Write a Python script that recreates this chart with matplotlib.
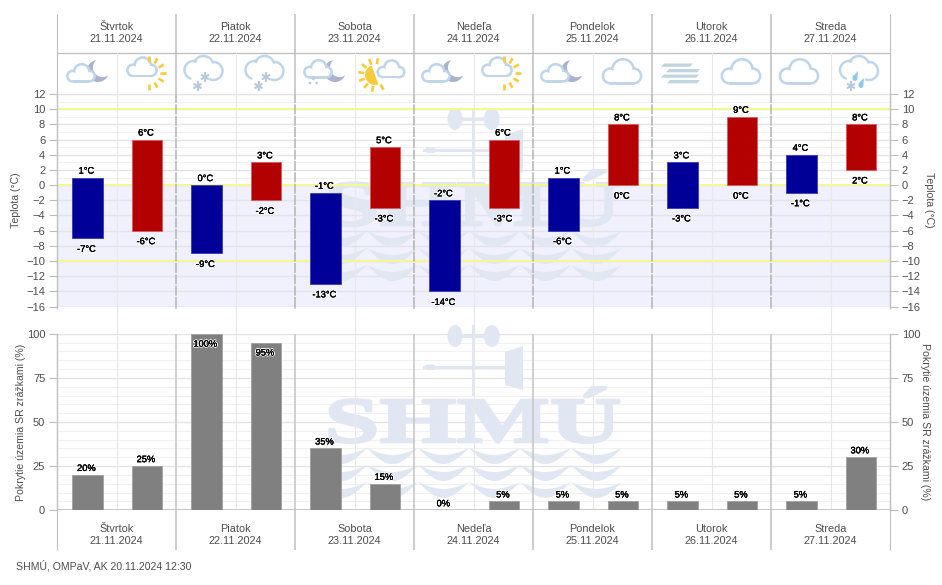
"""Teplota a pokrytie zrazkami - 7 day forecast chart."""

import matplotlib
matplotlib.use("Agg")
import matplotlib.patheffects as pe
import matplotlib.pyplot as plt
import numpy as np
from matplotlib.patches import Circle, Ellipse, FancyBboxPatch, Polygon, Rectangle
from matplotlib.transforms import Affine2D

plt.rcParams["font.family"] = ["Liberation Sans", "DejaVu Sans"]

days = ["Štvrtok", "Piatok", "Sobota", "Nedeľa", "Pondelok", "Utorok", "Streda"]
dates = ["21.11.2024", "22.11.2024", "23.11.2024", "24.11.2024",
         "25.11.2024", "26.11.2024", "27.11.2024"]

temp_high = [1, 6, 0, 3, -1, 5, -2, 6, 1, 8, 3, 9, 4, 8]
temp_low = [-7, -6, -9, -2, -13, -3, -14, -3, -6, 0, -3, 0, -1, 2]
precip = [20, 25, 100, 95, 35, 15, 0, 5, 5, 5, 5, 5, 5, 30]
temp_ticks = list(range(-16, 13, 2))
precip_ticks = [0, 25, 50, 75, 100]
icons = ["moon", "sun", "snow", "snow", "snowmoon", "halfsun", "moon",
         "sun", "moon", "cloud", "fog", "cloud", "cloud", "rainsnow"]

W, H = 942, 585
LEFT, RIGHT = 57, 890
TOP_Y = (94, 306.6)
BOT_Y = (333.7, 510.3)

BLUE = "#000099"
RED = "#B30000"
GRID = "#E4E4E4"
GRID_MINOR = "#F1F1F1"
AXIS = "#BEBEBE"
TEXT = "#4D4D4D"
WATERMARK = "#E0E7F3"
CLOUD = "#BFD6EA"
MOON = "#A9B3CB"
SUN = "#F6CB3C"
FLAKE = "#B8C9DD"

fig = plt.figure(figsize=(W / 100, H / 100), dpi=100)

# full figure axes in pixel coordinates, for header, footer and icons
px = fig.add_axes([0, 0, 1, 1])
px.set_xlim(0, W)
px.set_ylim(H, 0)
px.axis("off")


def chart_axes(y_range):
    y0, y1 = y_range
    ax = fig.add_axes([LEFT / W, 1 - y1 / H, (RIGHT - LEFT) / W, (y1 - y0) / H])
    ax.patch.set_alpha(0)
    ax.set_xlim(0, 14)
    ax.set_xticks([])
    for s in ["top", "bottom"]:
        ax.spines[s].set_visible(False)
    for s in ["left", "right"]:
        ax.spines[s].set_color(AXIS)
        ax.spines[s].set_linewidth(1)
    ax.tick_params(axis="y", which="major", length=5.5, width=0.8, color=AXIS, pad=3,
                   labelsize=8, labelcolor=TEXT, left=True, right=True, labelright=True)
    ax.tick_params(axis="y", which="minor", length=0, left=False, right=False)
    ax.set_axisbelow(True)
    ax.grid(axis="y", which="major", color=GRID, lw=1, zorder=1.5)
    ax.grid(axis="y", which="minor", color=GRID_MINOR, lw=0.8, zorder=1.4)
    for i in range(1, 14, 2):
        ax.axvline(i, color="#E8E8E8", lw=0.8, zorder=1.5)
    return ax


class Stretch(pe.AbstractPathEffect):
    """Stretch a text horizontally around a pixel x position and thicken it."""

    def __init__(self, cx, sx, bold=2.0):
        super().__init__()
        self.cx, self.sx, self.bold = cx, sx, bold

    def draw_path(self, renderer, gc, tpath, affine, rgbFace=None):
        stretch = Affine2D().translate(-self.cx, 0).scale(self.sx, 1).translate(self.cx, 0)
        gc0 = renderer.new_gc()
        gc0.copy_properties(gc)
        gc0.set_linewidth(self.bold)
        gc0.set_foreground(rgbFace)
        renderer.draw_path(gc0, tpath, affine + stretch, rgbFace)
        gc0.restore()


def watermark(ax, dy):
    kw = dict(transform=px.transData, facecolor=WATERMARK, edgecolor="none",
              clip_on=False, zorder=1)
    ax.add_patch(Ellipse((455, 336 + dy), 15, 22, **kw))
    ax.add_patch(Ellipse((491.7, 336 + dy), 16, 22, **kw))
    ax.add_patch(Rectangle((455, 334.5 + dy), 37, 3, **kw))
    ax.add_patch(Rectangle((471.6, 325 + dy), 3.5, 71, **kw))
    ax.add_patch(Rectangle((423, 365.6 + dy), 84, 3.5, **kw))
    ax.add_patch(FancyBboxPatch((425, 364.5 + dy), 11, 5.5,
                                boxstyle="round,pad=0,rounding_size=2.5", **kw))
    ax.add_patch(Polygon([(505, 352 + dy), (523, 346 + dy), (523, 390 + dy), (505, 385 + dy)], **kw))
    ax.text(473, 442 + dy, "SHMÚ", family="Liberation Serif", weight="bold", fontsize=46,
            color=WATERMARK, ha="center", va="baseline", transform=px.transData,
            clip_on=False, zorder=1, path_effects=[Stretch(473, 1.55)])
    # waves
    xs = np.linspace(342, 622, 200)
    for y0 in [448, 465, 482]:
        bump = np.abs(np.sin(np.pi * (xs - 367) / 51))
        pts = np.r_[np.c_[xs, y0 + dy + 7 * bump], np.c_[xs, y0 + dy + 16 * bump][::-1]]
        ax.add_patch(Polygon(pts, **kw))


def label(ax, x, y, text, off):
    ax.annotate(text, (x, y), xytext=(-0.7, off * 0.72), textcoords="offset points",
                ha="center", va="center", fontsize=6.7, color="black", zorder=6,
                annotation_clip=False,
                path_effects=[pe.withStroke(linewidth=1.4, foreground="white"),
                              pe.Stroke(linewidth=0.15, foreground="black"), pe.Normal()])


# temperature chart
ax_t = chart_axes(TOP_Y)
ax_t.set_ylim(-16, 12)
ax_t.set_yticks(temp_ticks)
ax_t.set_yticks(list(range(-15, 12, 2)), minor=True)
ax_t.axhspan(-16, 0, color="#F0F0FF", lw=0, zorder=0.5)
watermark(ax_t, -217)
for y in [10, 0, -10]:
    ax_t.axhline(y, color="#F7F78F", lw=1.5, zorder=1.8)
for i in range(2, 14, 2):
    ax_t.axvline(i, color="#B8B8B8", lw=1.2, ls=(0, (6, 0.8)), zorder=2)

x_pos = np.arange(14) + 0.51
for i, (hi, lo) in enumerate(zip(temp_high, temp_low)):
    is_night = i % 2 == 0
    ax_t.bar(x_pos[i], hi - lo, bottom=lo, width=0.51, zorder=3,
             color=BLUE if is_night else RED,
             edgecolor="#3A3AB8" if is_night else "#D85A5A", linewidth=0.6)
    label(ax_t, x_pos[i], hi, f"{hi}°C", 6.5)
    label(ax_t, x_pos[i], lo, f"{lo}°C", -11)

# precipitation chart
ax_p = chart_axes(BOT_Y)
ax_p.set_ylim(0, 100)
ax_p.set_yticks(precip_ticks)
ax_p.set_yticks([v for v in range(5, 100, 5) if v % 25], minor=True)
watermark(ax_p, 0)
for i in range(2, 14, 2):
    ax_p.axvline(i, color="#C4C4C4", lw=1.1, zorder=2)
ax_p.axhline(0, color=AXIS, lw=1.2, zorder=2)
ax_p.bar(x_pos, precip, width=0.51, color="#808080", edgecolor="#9A9A9A", linewidth=0.5, zorder=3)
for i, v in enumerate(precip):
    label(ax_p, x_pos[i], v, f"{v}%", -10.5 if v >= 95 else 6.5)

# frame lines of header, footer and the half day lines through the gap
day_edges = np.linspace(LEFT, RIGHT, 8)
for i, x in enumerate(day_edges):
    lw = 0.8 if i in (0, 7) else 1.1
    px.plot([x, x], [14, TOP_Y[0]], color=AXIS, lw=lw, solid_capstyle="butt")
    px.plot([x, x], [BOT_Y[1], 550], color=AXIS, lw=lw, solid_capstyle="butt")
    px.plot([x, x], [TOP_Y[1], 308.5], color=AXIS, lw=lw, solid_capstyle="butt")
px.plot([LEFT, RIGHT], [53, 53], color=AXIS, lw=0.9)
px.plot([LEFT, RIGHT], [TOP_Y[0], TOP_Y[0]], color=GRID, lw=0.9)
for x in (day_edges[:-1] + day_edges[1:]) / 2:
    px.plot([x, x], [53, TOP_Y[0]], color="#E8E8E8", lw=0.8)
    px.plot([x, x], [TOP_Y[1], BOT_Y[0]], color="#E8E8E8", lw=0.8)

for i in range(7):
    cx = (day_edges[i] + day_edges[i + 1]) / 2
    for y_name, y_date in [(27.5, 39.5), (528.5, 540.5)]:
        px.text(cx, y_name, days[i], ha="center", va="center", fontsize=7.8, color=TEXT)
        px.text(cx, y_date, dates[i], ha="center", va="center", fontsize=7.8, color=TEXT)

px.text(16, 200, "Teplota (°C)", rotation=90, ha="center", va="center", fontsize=7.6, color=TEXT)
px.text(929, 200, "Teplota (°C)", rotation=-90, ha="center", va="center", fontsize=7.6, color=TEXT)
px.text(21, 422, "Pokrytie územia SR zrážkami (%)", rotation=90, ha="center", va="center",
        fontsize=7.6, color=TEXT)
px.text(925, 422, "Pokrytie územia SR zrážkami (%)", rotation=-90, ha="center", va="center",
        fontsize=7.6, color=TEXT)
px.text(16, 566, "SHMÚ, OMPaV, AK 20.11.2024 12:30", ha="left", va="center", fontsize=7.6, color=TEXT)


# weather icons, everything in pixels around an icon centre
def cloud(cx, cy, s=1.0):
    lobes = [(1, -3, 11), (-12, 3, 7.5), (12, 3, 7.5)]
    for grow, color in [(1.3, CLOUD), (-1.3, "white")]:
        for dx, dy, r in lobes:
            px.add_patch(Circle((cx + dx * s, cy + dy * s), r * s + grow, fc=color, ec="none"))
        px.add_patch(Rectangle((cx - 12 * s, cy + s), 24 * s, 9.5 * s + grow, fc=color, ec="none"))


def arc(cx, cy, r, a0, a1, color=CLOUD, lw=1.8):
    t = np.radians(np.linspace(a0, a1, 40))
    px.plot(cx + r * np.cos(t), cy + r * np.sin(t), color=color, lw=lw, solid_capstyle="round")


def open_cloud(cx, cy, s=1.0):
    arc(cx - 11 * s, cy - 2 * s, 9 * s, 110, 285)
    arc(cx - 1 * s, cy - 6 * s, 10 * s, 205, 340)
    arc(cx + 9 * s, cy - 1 * s, 9 * s, 275, 470)


def flake(x, y, size=3.6, color=FLAKE):
    for a in [0, 60, 120]:
        t = np.radians(a + 90)
        px.plot([x - size * np.cos(t), x + size * np.cos(t)],
                [y - size * np.sin(t), y + size * np.sin(t)], color=color, lw=1.5)


def moon(x, y, r=11):
    px.add_patch(Circle((x, y), r, fc=MOON, ec="none"))
    px.add_patch(Circle((x + r * 0.42, y - r * 0.32), r * 0.88, fc="white", ec="none"))


def rays(x, y, angles, r0=11, r1=17):
    for a in angles:
        t = np.radians(a)
        px.plot([x + r0 * np.cos(t), x + r1 * np.cos(t)], [y + r0 * np.sin(t), y + r1 * np.sin(t)],
                color=SUN, lw=1.9, solid_capstyle="butt")


def draw_icon(kind, cx, cy=73):
    if kind == "cloud":
        cloud(cx, cy, 0.98)
    elif kind == "moon":
        moon(cx + 17, cy - 2, 11)
        cloud(cx, cy + 1, 0.7)
    elif kind == "sun":
        rays(cx + 7, cy, [-90, -60, -30, 0, 30, 60, 90])
        cloud(cx, cy - 5, 0.75)
    elif kind == "halfsun":
        rays(cx - 16, cy + 2, [60, 100, 130, 160, 190, 220, 250, 280])
        t = np.radians(np.linspace(70, 250, 30))
        px.add_patch(Polygon(np.c_[cx - 16 + 10 * np.cos(t), cy + 2 + 10 * np.sin(t)], fc=SUN, ec="none"))
        cloud(cx, cy - 3, 0.68)
    elif kind == "snow":
        open_cloud(cx, cy - 1)
        flake(cx + 0.5, cy + 4)
        flake(cx - 7, cy + 13)
    elif kind == "snowmoon":
        moon(cx + 17, cy - 2, 11)
        cloud(cx, cy - 3, 0.7)
        for dx, dy in [(-8, 10), (-1.3, 10), (-4.7, 6)]:
            px.add_patch(Circle((cx + dx, cy + dy), 1.3, fc=FLAKE, ec="none"))
    elif kind == "fog":
        for x0, x1, y in [(-20, 12, 63.5), (-15, 19, 69), (-20, 18, 74.5), (-14, 19, 80)]:
            px.add_patch(Polygon([(cx + x0 + 3, y), (cx + x1, y), (cx + x1 - 3, y + 3.3), (cx + x0, y + 3.3)],
                                 fc="#BFD5DF", ec="none"))
    elif kind == "rainsnow":
        open_cloud(cx, cy - 1)
        flake(cx - 9, cy + 13)
        for dx, dy in [(-5, 5), (1, 12)]:
            px.add_patch(Ellipse((cx + dx, cy + dy), 5, 6, fc="#8FC8E8", ec="none"))
            px.add_patch(Polygon([(cx + dx - 2.3, cy + dy - 1.5), (cx + dx + 3, cy + dy - 7), (cx + dx + 2.4, cy + dy - 1)],
                                 fc="#8FC8E8", ec="none"))


icon_x = [81, 142, 204.5, 265.5, 318, 391, 436, 497, 555, 622, 681, 741, 799, 860]
for kind, x in zip(icons, icon_x):
    draw_icon(kind, x)

fig.savefig("out.png", dpi=100)
